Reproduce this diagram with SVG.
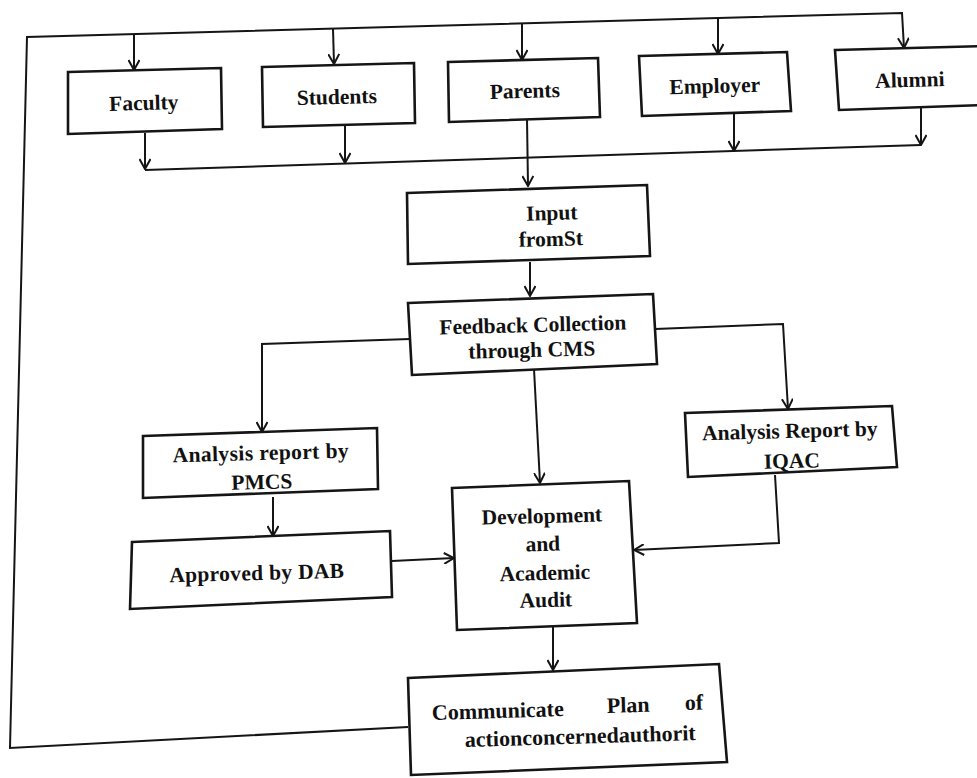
<svg xmlns="http://www.w3.org/2000/svg" width="977" height="778" viewBox="0 0 977 778">
<style>
.box{fill:#fff;stroke:#151515;stroke-width:2.6;stroke-linejoin:miter}
.c{fill:none;stroke:#151515;stroke-width:2;stroke-linejoin:miter}
.t{font-family:"Liberation Serif","Times New Roman",serif;font-weight:bold;font-size:21.5px;fill:#111;text-anchor:middle}
.s{text-anchor:start;font-size:22px}
</style>
<defs>
<marker id="a" viewBox="0 0 12 12" refX="11" refY="6" markerWidth="12" markerHeight="12" markerUnits="userSpaceOnUse" orient="auto">
<path d="M1,0.5 L11,6 L1,11.5" fill="none" stroke="#151515" stroke-width="2"/>
</marker>
</defs>
<rect width="977" height="778" fill="#fff"/>
<g id="connectors">
<path class="c" d="M408,727 L10,748 L27,37 L902,13 L904,48" marker-end="url(#a)"/>
<path class="c" d="M134,34 L134,70" marker-end="url(#a)"/>
<path class="c" d="M333,29 L334,64" marker-end="url(#a)"/>
<path class="c" d="M522,23 L522,60" marker-end="url(#a)"/>
<path class="c" d="M718,18 L718,54" marker-end="url(#a)"/>
<path class="c" d="M145,170 L921,145"/>
<path class="c" d="M145,133 L145,169" marker-end="url(#a)"/>
<path class="c" d="M345,125 L345,163" marker-end="url(#a)"/>
<path class="c" d="M734,113 L734,151" marker-end="url(#a)"/>
<path class="c" d="M921,108 L921,145" marker-end="url(#a)"/>
<path class="c" d="M527,119 L528,186" marker-end="url(#a)"/>
<path class="c" d="M530,262 L530,296" marker-end="url(#a)"/>
<path class="c" d="M410,339 L262,344 L262,432" marker-end="url(#a)"/>
<path class="c" d="M655,329 L783,324 L788,409" marker-end="url(#a)"/>
<path class="c" d="M534,369 L540,483" marker-end="url(#a)"/>
<path class="c" d="M273,497 L273,536" marker-end="url(#a)"/>
<path class="c" d="M392,561 L454,558" marker-end="url(#a)"/>
<path class="c" d="M775,475 L779,543 L634,550" marker-end="url(#a)"/>
<path class="c" d="M553,624 L553,670" marker-end="url(#a)"/>
</g>
<g id="faculty"><polygon class="box" points="68,72 221,68 222,129 68,134"/><text class="t" x="144" y="110" transform="rotate(-1.5 144 110)">Faculty</text></g>
<g id="students"><polygon class="box" points="262,67 414,63 415,123 263,127"/><text class="t" x="337" y="104" transform="rotate(-1.5 337 104)">Students</text></g>
<g id="parents"><polygon class="box" points="448,62 598,58 600,117 449,122"/><text class="t" x="525" y="98" transform="rotate(-1.5 525 98)">Parents</text></g>
<g id="employer"><polygon class="box" points="639,56 787,52 791,111 642,116"/><text class="t" x="715" y="93" transform="rotate(-1.5 715 93)">Employer</text></g>
<g id="alumni"><polygon class="box" points="835,50 986,46 986,105 839,110"/><text class="t" x="910" y="87" transform="rotate(-1.5 910 87)">Alumni</text></g>
<g id="input"><polygon class="box" points="407,193 647,185 650,256 408,264"/><text class="t" x="552" y="220" transform="rotate(-1.5 552 220)">Input</text><text class="t" x="551" y="246" transform="rotate(-1.5 551 246)">fromSt</text></g>
<g id="feedback"><polygon class="box" points="408,303 653,294 657,364 412,375"/><text class="t" x="533" y="332" transform="rotate(-1.5 533 332)">Feedback Collection</text><text class="t" x="532" y="357" transform="rotate(-1.5 532 357)">through CMS</text></g>
<g id="pmcs"><polygon class="box" points="143,436 377,428 378,489 143,498"/><text class="t" x="261" y="460" transform="rotate(-1.5 261 460)" letter-spacing="0.4">Analysis report by</text><text class="t" x="262" y="489" transform="rotate(-1.5 262 489)">PMCS</text></g>
<g id="dab"><polygon class="box" points="132,542 390,531 392,597 130,609"/><text class="t" x="257" y="580" transform="rotate(-1.5 257 580)" letter-spacing="0.3">Approved by DAB</text></g>
<g id="iqac"><polygon class="box" points="685,413 892,406 897,467 688,477"/><text class="t" x="790" y="438" transform="rotate(-1.5 790 438)">Analysis Report by</text><text class="t" x="792" y="468" transform="rotate(-1.5 792 468)">IQAC</text></g>
<g id="development"><polygon class="box" points="452,488 629,481 637,623 457,630"/><text class="t" x="542" y="523" transform="rotate(-1.5 542 523)">Development</text><text class="t" x="543" y="551" transform="rotate(-1.5 543 551)">and</text><text class="t" x="545" y="580" transform="rotate(-1.5 545 580)">Academic</text><text class="t" x="546" y="607" transform="rotate(-1.5 546 607)">Audit</text></g>
<g id="communicate"><polygon class="box" points="408,678 719,664 727,762 411,775"/><text class="t s" x="432" y="720" transform="rotate(-1.7 432 720)">Communicate</text><text class="t s" x="607" y="713" transform="rotate(-1.7 607 713)">Plan</text><text class="t s" x="685" y="710" transform="rotate(-1.7 685 710)">of</text><text class="t s" x="465" y="747" transform="rotate(-1.7 465 747)">actionconcernedauthorit</text></g>
</svg>
